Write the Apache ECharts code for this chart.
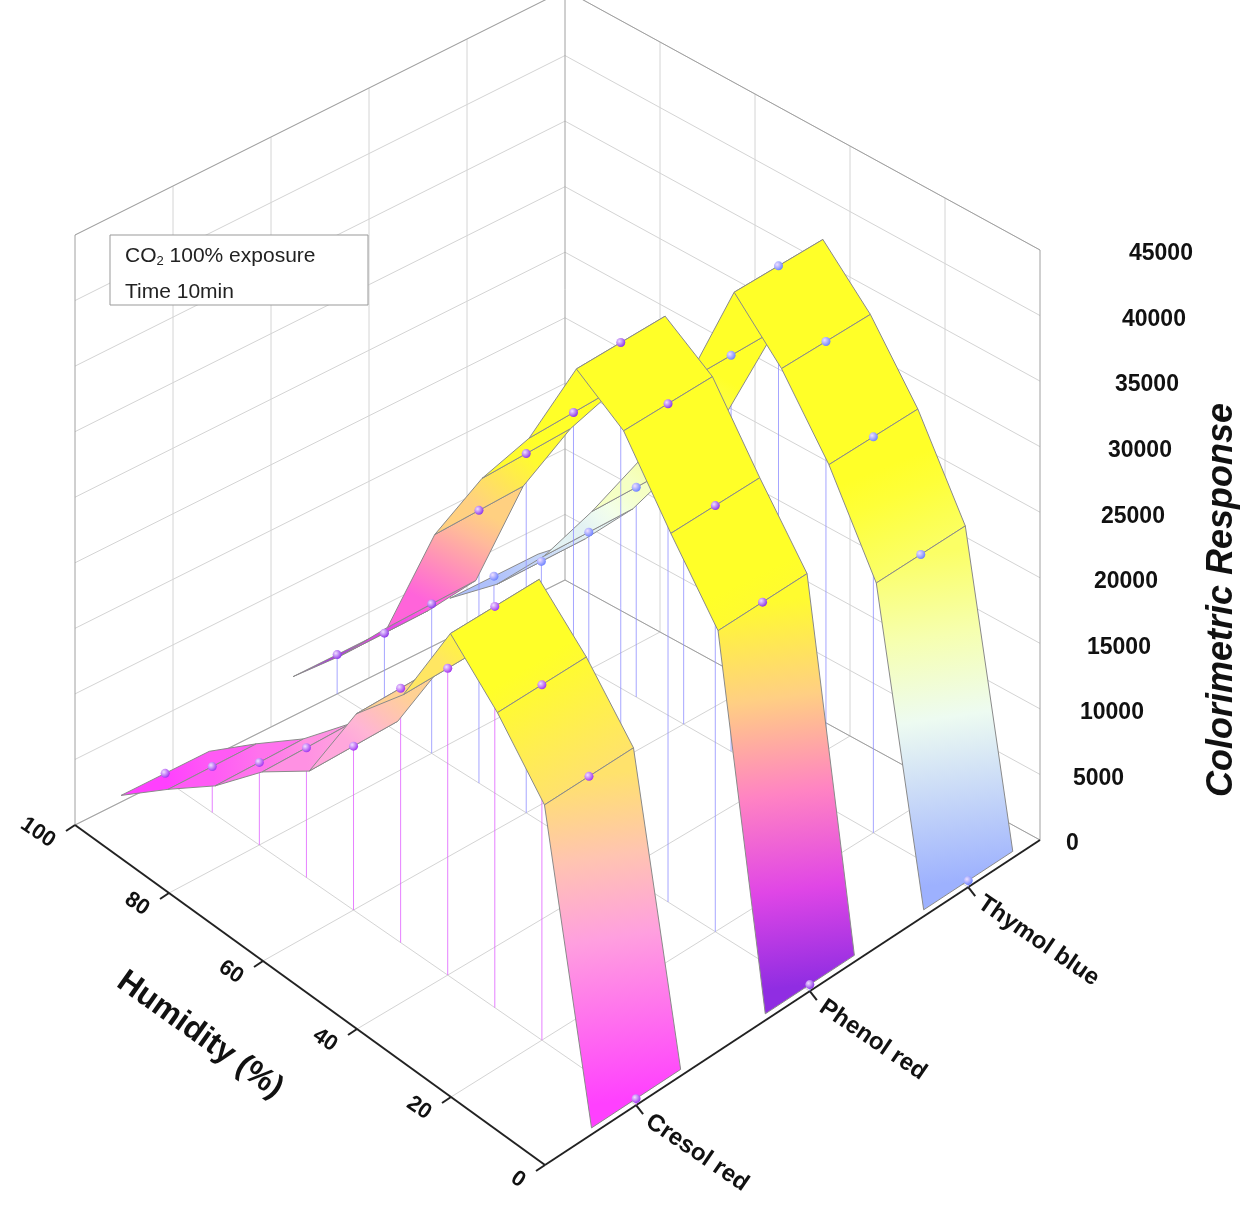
<!DOCTYPE html>
<html><head><meta charset="utf-8">
<script src="https://cdn.jsdelivr.net/npm/echarts@6/dist/echarts.min.js"></script>
<style>html,body{margin:0;background:#fff}#main{width:1260px;height:1226px}</style>
</head><body><div id="main"></div>
<script>
var humidity = [0, 10, 20, 30, 40, 50, 60, 70, 80, 90, 100];
var dyes = ['Cresol red', 'Phenol red', 'Thymol blue'];
var cresol = [500, 22600, 27100, 30600, 23400, 19400, 12500, 9900, 6300, 3500, 500];
var phenol = [500, 27400, 32500, 38000, 40400, 32800, 27400, 20800, 11400, 6900, 3000];
var thymol = [500, 23300, 30200, 35400, 39100, 30200, 22000, 16000, 10500, 6200, 3000];
var zTicks = [0, 5000, 10000, 15000, 20000, 25000, 30000, 35000, 40000, 45000];
var hTicks = [0, 20, 40, 60, 80, 100];

var dyePos = [0.184, 0.535, 0.855];
var halfW = 0.09;
var colorMaps = [
  [[0, '#ff3cff'], [0.5, '#ffb4d8'], [1, '#ffff28']],
  [[0, '#8a2be2'], [0.35, '#ff50e8'], [0.7, '#ffc890'], [1, '#ffff28']],
  [[0, '#9aaeff'], [0.45, '#f2fff0'], [1, '#ffff28']]
];
var dotColors = ['#a030f0', '#8a30e8', '#6a80ff'];
var dropColors = ['#e060ff', '#9090ff', '#9090ff'];
var series3 = [cresol, phenol, thymol];

// floor corners (oblique box)
var F = [545, 1165], L = [75, 825], R = [1040, 840], B = [565, 580];
var zScale = 590 / 45000;

function floorPt(u, w) {
  return [
    F[0]*(1-u)*(1-w) + L[0]*u*(1-w) + R[0]*(1-u)*w + B[0]*u*w,
    F[1]*(1-u)*(1-w) + L[1]*u*(1-w) + R[1]*(1-u)*w + B[1]*u*w
  ];
}
function hexToRgb(h) { return [parseInt(h.substr(1,2),16), parseInt(h.substr(3,2),16), parseInt(h.substr(5,2),16)]; }
function cmap(stops, v) {
  var t = Math.max(0, Math.min(1, v / 28000));
  for (var i = 1; i < stops.length; i++) {
    if (t <= stops[i][0]) {
      var a = stops[i-1], b = stops[i], f = (t - a[0]) / (b[0] - a[0]);
      var ca = hexToRgb(a[1]), cb = hexToRgb(b[1]);
      return 'rgb(' + ca.map(function (c, k) { return Math.round(c + (cb[k]-c)*f); }).join(',') + ')';
    }
  }
  return stops[stops.length-1][1];
}

function renderAll(params, api) {
  function P(u, w, v) {
    var f = floorPt(u, w);
    return api.coord([f[0], f[1] - (v || 0) * zScale]);
  }
  function seg(p, q, style) {
    return { type: 'line', shape: { x1: p[0], y1: p[1], x2: q[0], y2: q[1] }, style: style };
  }
  var ch = [];
  var grid = { stroke: '#d4d4d4', lineWidth: 1, fill: null };
  zTicks.forEach(function (z) {
    ch.push(seg(P(1,0,z), P(1,1,z), grid));
    ch.push(seg(P(1,1,z), P(0,1,z), grid));
  });
  [0.2, 0.4, 0.6, 0.8].forEach(function (w) {
    ch.push(seg(P(1,w,0), P(1,w,45000), grid));
  });
  [0.2, 0.4, 0.6, 0.8].forEach(function (u) {
    ch.push(seg(P(u,1,0), P(u,1,45000), grid));
  });
  var frame = { stroke: '#a0a0a0', lineWidth: 1 };
  ch.push(seg(P(1,0,45000), P(1,1,45000), frame));
  ch.push(seg(P(1,1,45000), P(0,1,45000), frame));
  ch.push(seg(P(1,0), P(1,0,45000), frame));
  ch.push(seg(P(1,1), P(1,1,45000), frame));
  ch.push(seg(P(0,1), P(0,1,45000), frame));
  hTicks.forEach(function (h) {
    ch.push(seg(P(h/100,0), P(h/100,1), grid));
  });
  dyePos.forEach(function (w) {
    ch.push(seg(P(0,w), P(1,w), grid));
  });
  ch.push(seg(P(1,0), P(1,1), frame));
  ch.push(seg(P(1,1), P(0,1), frame));
  var edge = { stroke: '#222', lineWidth: 2 };
  ch.push(seg(P(1,0), P(0,0), edge));
  ch.push(seg(P(0,0), P(0,1), edge));

  hTicks.forEach(function (h) {
    var p = P(h/100, 0);
    ch.push(seg(p, [p[0]-9, p[1]+6], edge));
    ch.push({ type: 'text', x: p[0]-22, y: p[1]+18, rotation: -0.6,
      style: { text: String(h), font: 'bold 22px "Liberation Sans", Arial', fill: '#111', align: 'right', verticalAlign: 'middle' } });
  });
  ch.push({ type: 'text', x: 200, y: 1035, rotation: -0.62,
    style: { text: 'Humidity (%)', font: 'bold 32px "Liberation Sans", Arial', fill: '#111', align: 'center', verticalAlign: 'middle' } });
  dyes.forEach(function (d, i) {
    var p = P(0, dyePos[i]);
    ch.push(seg(p, [p[0]+7, p[1]+9], edge));
    ch.push({ type: 'text', x: p[0]+12, y: p[1]+14, rotation: -0.6,
      style: { text: d, font: 'bold 24px "Liberation Sans", Arial', fill: '#111', align: 'left', verticalAlign: 'middle' } });
  });
  zTicks.forEach(function (z, k) {
    var p = P(0, 1, z);
    ch.push({ type: 'text', x: p[0] + 26 + k * 7, y: p[1] + 4,
      style: { text: String(z), font: 'bold 23px "Liberation Sans", Arial', fill: '#111', align: 'left', verticalAlign: 'middle' } });
  });
  ch.push({ type: 'text', x: 1222, y: 600, rotation: Math.PI / 2,
    style: { text: 'Colorimetric Response', font: 'italic bold 36px "Liberation Sans", Arial', fill: '#111', align: 'center', verticalAlign: 'middle' } });

  for (var s = 2; s >= 0; s--) {
    var vals = series3[s], w = dyePos[s];
    humidity.forEach(function (h, i) {
      ch.push(seg(P(h/100, w, vals[i]), P(h/100, w, 0), { stroke: dropColors[s], lineWidth: 1, opacity: 0.8 }));
    });
    for (var i = humidity.length - 2; i >= 0; i--) {
      var u0 = humidity[i]/100, u1 = humidity[i+1]/100, v0 = vals[i], v1 = vals[i+1];
      var a = P(u0, w-halfW, v0), b = P(u0, w+halfW, v0), c = P(u1, w+halfW, v1), d = P(u1, w-halfW, v1);
      var m0 = P(u0, w, v0), m1 = P(u1, w, v1);
      var stops = [];
      for (var k = 0; k <= 4; k++) stops.push({ offset: k/4, color: cmap(colorMaps[s], v0 + (v1-v0)*k/4) });
      ch.push({ type: 'polygon', shape: { points: [a, b, c, d] },
        style: { fill: { type: 'linear', x: m0[0], y: m0[1], x2: m1[0], y2: m1[1], global: true, colorStops: stops },
          stroke: '#8a8a8a', lineWidth: 1 } });
    }
    humidity.forEach(function (h, i) {
      var p = P(h/100, w, vals[i]);
      ch.push({ type: 'circle', shape: { cx: p[0], cy: p[1], r: 4.5 },
        style: { fill: { type: 'radial', x: 0.35, y: 0.35, r: 0.7, colorStops: [{ offset: 0, color: '#f0e0ff' }, { offset: 1, color: dotColors[s] }] } } });
    });
  }
  ch.push({ type: 'rect', shape: { x: 110, y: 235, width: 258, height: 70 }, style: { fill: '#fff', stroke: '#999', lineWidth: 1 } });
  ch.push({ type: 'text', x: 125, y: 256, style: {
    text: 'CO{sub|2} 100% exposure', font: '21px "Liberation Sans", Arial', fill: '#222', verticalAlign: 'middle',
    rich: { sub: { fontSize: 13, verticalAlign: 'bottom', padding: [10, 0, 0, 0], fill: '#222' } } } });
  ch.push({ type: 'text', x: 125, y: 292, style: { text: 'Time 10min', font: '21px "Liberation Sans", Arial', fill: '#222', verticalAlign: 'middle' } });
  return { type: 'group', children: ch };
}

var chart = echarts.init(document.getElementById('main'));
chart.setOption({
  backgroundColor: '#fff',
  animation: false,
  grid: { left: 0, top: 0, right: 0, bottom: 0 },
  xAxis: { type: 'value', min: 0, max: 1260, show: false },
  yAxis: { type: 'value', min: 0, max: 1226, inverse: true, show: false },
  series: [{ type: 'custom', renderItem: renderAll, data: [[0, 0]], clip: false }]
});
</script></body></html>
